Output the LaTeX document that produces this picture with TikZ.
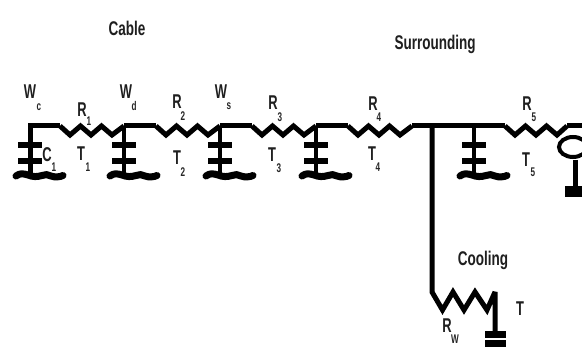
\documentclass[tikz,border=0pt]{standalone}
\usepackage{fontspec}
\setmainfont{Liberation Sans}
\tikzset{
  wire/.style={line width=5pt,line cap=butt,line join=miter,miter limit=3},
  thinwire/.style={line width=4pt,line join=miter},
  plate/.style={line width=5.5pt},
  lbl/.style={inner sep=0pt,font=\fontsize{19}{19}\selectfont\bfseries,xscale=.68,yscale=1.05,text=black!88},
  sub/.style={inner sep=0pt,font=\fontsize{12}{12}\selectfont\bfseries,xscale=.68,yscale=1.05,text=black!85},
  head/.style={inner sep=0pt,font=\fontsize{18}{18}\selectfont\bfseries,xscale=.75,yscale=1.1,text=black!88},
  pics/capgnd/.style={code={
    \draw[thinwire] (0,0) -- (0,50);
    \draw[plate] (-12,19) -- (12,19);
    \draw[plate] (-12,35) -- (12,35);
    \draw[line width=7pt,line cap=round] (-14,50) .. controls (-10,47) and (-7,47.5) .. (-2,49)
      .. controls (3,51) and (7,51) .. (12,49.5) .. controls (15,48) and (18,48.5) .. (21,50)
      .. controls (25,51.5) and (30,51) .. (33,49.5);
  }}
}
\newcommand\zigzag[3]{\draw[#1] (#2) -- ++(10,9) -- ++(10.5,-9) -- ++(10.5,9) -- ++(10.5,-9) -- ++(10.5,9) -- (#3);}
\begin{document}
\begin{tikzpicture}[x=1pt,y=-1pt]
\useasboundingbox[fill=white] (0,0) rectangle (582,363);
% main line junctions
\coordinate (n1) at (30,126);
\coordinate (a1) at (60,126);
\coordinate (n2) at (124,126);
\coordinate (a2) at (156,126);
\coordinate (n3) at (220,126);
\coordinate (a3) at (252,126);
\coordinate (n4) at (316,126);
\coordinate (a4) at (348,126);
\coordinate (b4) at (412,126);
\coordinate (j) at (432,126);
\coordinate (n5) at (474,126);
\coordinate (a5) at (505,126);
\coordinate (b5) at (567,126);
\coordinate (e) at (582,126);
\coordinate (k) at (432,292);
\coordinate (m) at (495,292);
\coordinate (g) at (495,331);
\coordinate (p) at (575,160);
\coordinate (q) at (575,188);
% capacitors
\foreach \c in {n1,n2,n3,n4,n5} \pic at (\c) {capgnd};
% line
\draw[wire] (n1 |- 0,175) -- (n1) -- (a1);
\zigzag{wire}{a1}{n2}
\draw[wire] (n2) -- (a2);
\zigzag{wire}{a2}{n3}
\draw[wire] (n3) -- (a3);
\zigzag{wire}{a3}{n4}
\draw[wire] (n4) -- (a4);
\zigzag{wire}{a4}{b4}
\draw[wire] (b4) -- (a5);
\zigzag{wire}{a5}{b5}
\draw[wire] (b5) -- (e);
% right termination
\draw[line width=4pt] (573,147) ellipse [x radius=14,y radius=10];
\draw[wire] (p) -- (q);
\fill (565,186) rectangle (582,197);
% cooling branch
\draw[wire] (j) -- (k) -- ++(10.5,18) -- ++(10.5,-18) -- ++(11,18) -- ++(11,-18) -- ++(12,18) -- (m) -- (g);
\fill (485,331) rectangle (506,338);
\fill (485,340.5) rectangle (506,347);
% headings
\node[head] (cable) at (127,28) {Cable};
\node[head] (surr) at (435,44) {Surrounding};
\node[head] (cool) at (483,260) {Cooling};
% labels
\node[lbl] (wc) at (30,92) {W};  \node[sub] at (39,107) {c};
\node[lbl] (wd) at (126,92) {W}; \node[sub] at (134,106) {d};
\node[lbl] (ws) at (221,92) {W}; \node[sub] at (229,106) {s};
\node[lbl] (r1) at (82,110) {R}; \node[sub] at (89,121) {1};
\node[lbl] (r2) at (177,102) {R};\node[sub] at (183,116) {2};
\node[lbl] (r3) at (273,103) {R};\node[sub] at (280,117) {3};
\node[lbl] (r4) at (373,104) {R};\node[sub] at (379,117) {4};
\node[lbl] (r5) at (527,104) {R};\node[sub] at (534,117) {5};
\node[lbl] (c1) at (47,155) {C}; \node[sub] at (54,167) {1};
\node[lbl] (t1) at (81,154) {T}; \node[sub] at (88,167) {1};
\node[lbl] (t2) at (177,158) {T};\node[sub] at (183,172) {2};
\node[lbl] (t3) at (272,155) {T};\node[sub] at (279,168) {3};
\node[lbl] (t4) at (372,154) {T};\node[sub] at (378,167) {4};
\node[lbl] (t5) at (526,160) {T};\node[sub] at (533,172) {5};
\node[lbl] (rw) at (447,326) {R};\node[sub] at (455,339) {W};
\node[lbl] (t) at (520,309) {T};
\end{tikzpicture}
\end{document}
